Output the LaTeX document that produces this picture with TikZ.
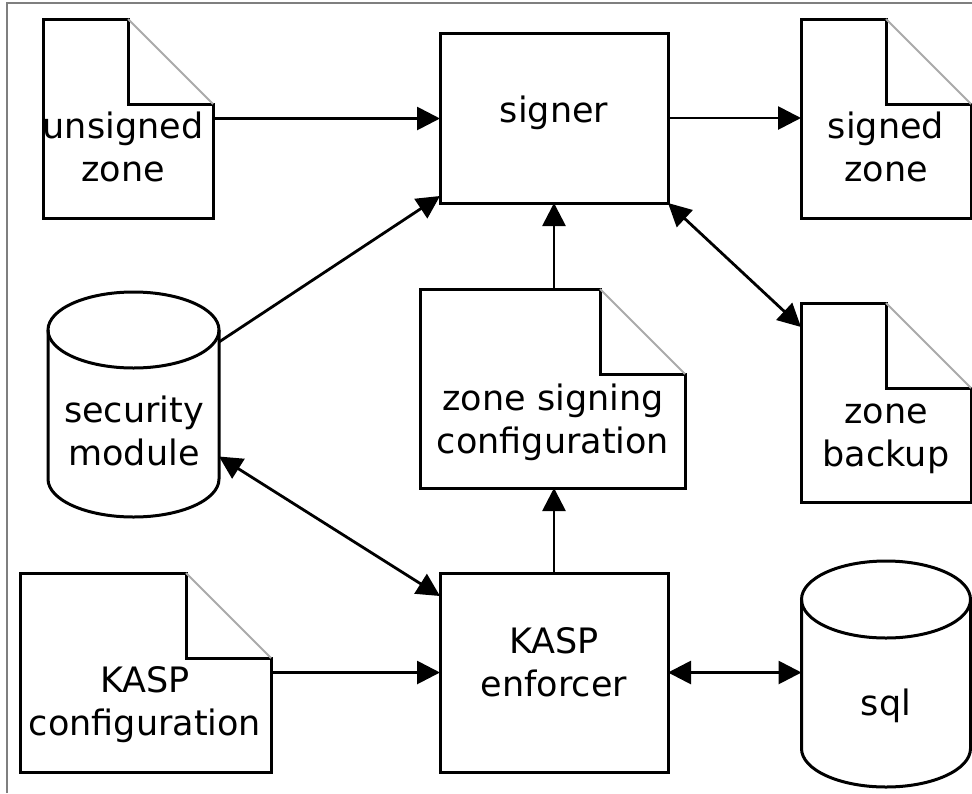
\documentclass[tikz,border=0pt]{standalone}
\usepackage{fontspec}
\setmainfont{DejaVu Sans}
\usetikzlibrary{arrows.meta}
\definecolor{foldgray}{HTML}{AAAAAA}
\definecolor{framegray}{HTML}{7F7F7F}
\newcommand\twolines[2]{\begin{tabular}[t]{@{}c@{}}#1\\#2\end{tabular}}
\newcommand\docshape[1]{%
  \draw[shapeline] (#1.north west) -- ([xshift=-85pt]#1.north east)
    -- ([shift={(-85pt,-85pt)}]#1.north east) -- ([yshift=-85pt]#1.north east)
    -- (#1.south east) -- (#1.south west) -- cycle;
  \draw[foldline] ([xshift=-85pt]#1.north east) -- ([yshift=-85pt]#1.north east);}
\newcommand\cylshape[3]{%
  \draw[shapeline] ([yshift=-#3]#1.north) ellipse [x radius=#2, y radius=#3];
  \draw[shapeline] ([yshift=-#3]#1.north west) -- ([yshift=#3]#1.south west)
    arc [start angle=180, end angle=360, x radius=#2, y radius=#3]
    -- ([yshift=-#3]#1.north east);}
\begin{document}
\begin{tikzpicture}[x=1pt,y=-1pt,
  shapeline/.style={line width=3pt, line join=miter},
  foldline/.style={line width=2pt, draw=foldgray},
  tip/.tip={Triangle[length=23pt,width=23pt]},
  conn/.style={line width=2.8pt, -tip},
  biconn/.style={line width=2.8pt, tip-tip},
  box/.style={rectangle, draw, shapeline, inner sep=0pt, outer sep=0pt},
  area/.style={rectangle, inner sep=0pt, outer sep=0pt},
  lbl/.style={anchor=base, inner sep=0pt, font=\fontsize{35}{43}\selectfont}]

\useasboundingbox (0,0) rectangle (972,793);
\fill[white] (0,0) rectangle (972,793);
\draw[framegray, line width=1.5pt] (7,793) -- (7,3) -- (972,3);

% shapes
\node[box, minimum width=228pt, minimum height=170pt] (signer) at (554,118) {};
\node[box, minimum width=228pt, minimum height=199pt] (enforcer) at (554,672.5) {};
\node[area, minimum width=170pt, minimum height=199pt] (unsigned) at (128,118.5) {};
\node[area, minimum width=170pt, minimum height=199pt] (signed) at (886,118.5) {};
\node[area, minimum width=170pt, minimum height=199pt] (backup) at (886,402.5) {};
\node[area, minimum width=265pt, minimum height=199pt] (zsc) at (552.5,388.5) {};
\node[area, minimum width=251pt, minimum height=199pt] (kaspconf) at (145.5,672.5) {};
\node[area, minimum width=171pt, minimum height=225pt] (secmod) at (133.5,404.5) {};
\node[area, minimum width=169pt, minimum height=226pt] (sql) at (886,674) {};

\docshape{unsigned}
\docshape{signed}
\docshape{backup}
\docshape{zsc}
\docshape{kaspconf}
\cylshape{secmod}{85.5pt}{38pt}
\cylshape{sql}{84.5pt}{38.5pt}

% texts
\node[lbl] (signer-t) at (554,122) {signer};
\node[lbl] (enforcer-t) at (554,653) {\twolines{KASP}{enforcer}};
\node[lbl] (unsigned-t) at (123,138) {\twolines{unsigned}{zone}};
\node[lbl] (signed-t) at (886,138) {\twolines{signed}{zone}};
\node[lbl] (backup-t) at (886,423) {\twolines{zone}{backup}};
\node[lbl] (zsc-t) at (553,410) {\twolines{zone signing}{configuration}};
\node[lbl] (kaspconf-t) at (145,692) {\twolines{KASP}{configuration}};
\node[lbl] (secmod-t) at (134,422) {\twolines{security}{module}};
\node[lbl] (sql-t) at (886,715) {sql};

% connectors
\draw[conn] (unsigned.east) -- (unsigned.east -| signer.west);
\draw[conn] (signer.east) -- (signer.east -| signed.west);
\draw[conn] ([yshift=-50pt]secmod.north east) -- ([yshift=7pt]signer.south west);
\draw[conn] (zsc.north -| signer.south) -- (signer.south);
\draw[conn] (enforcer.north) -- (enforcer.north |- zsc.south);
\draw[biconn] (signer.south east) -- ([yshift=-24pt]backup.north west);
\draw[biconn] ([yshift=-52pt]secmod.east) -- ([yshift=-23pt]enforcer.north west);
\draw[conn] (kaspconf.east) -- (kaspconf.east -| enforcer.west);
\draw[biconn] (enforcer.east) -- (enforcer.east -| sql.west);
\end{tikzpicture}
\end{document}
